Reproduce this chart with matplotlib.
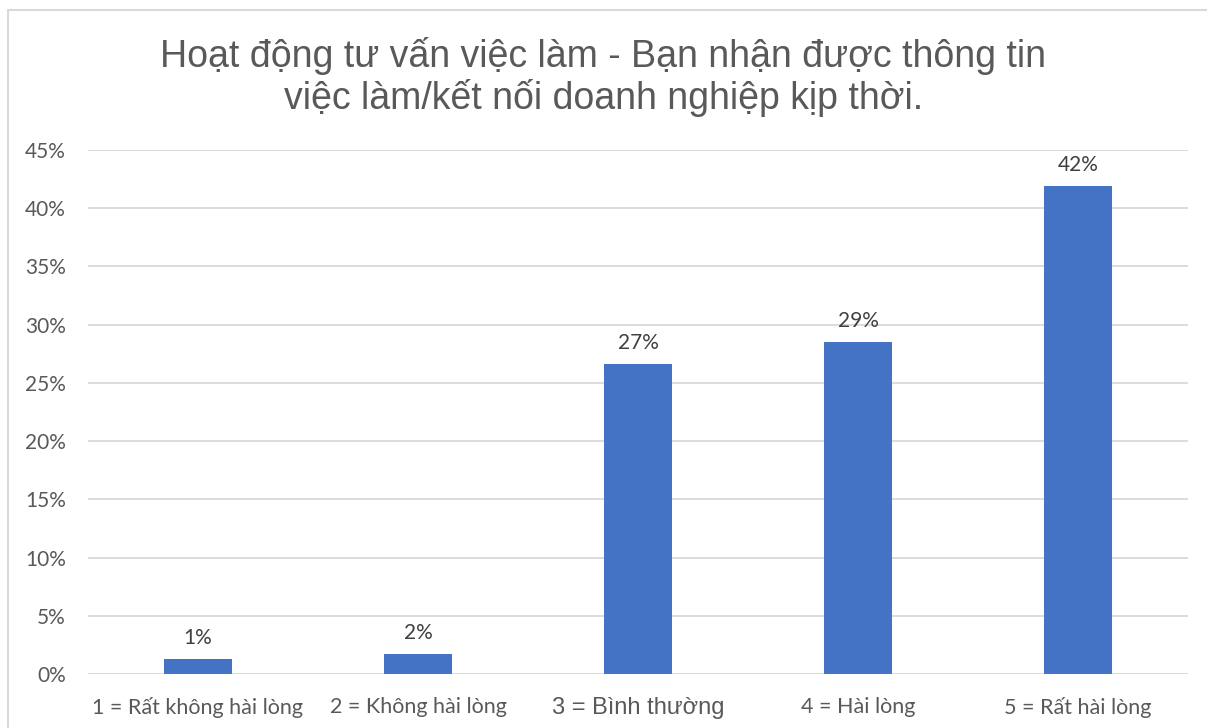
import matplotlib.pyplot as plt
from matplotlib.patches import Rectangle
from matplotlib.ticker import PercentFormatter

categories = ["1 = Rất không hài lòng", "2 = Không hài lòng", "3 = Bình thường",
              "4 = Hài lòng", "5 = Rất hài lòng"]
values = [1.3, 1.7, 26.6, 28.5, 41.9]
labels = ["1%", "2%", "27%", "29%", "42%"]
yticks = [0, 5, 10, 15, 20, 25, 30, 35, 40, 45]

title = "Hoạt động tư vấn việc làm - Bạn nhận được thông tin\nviệc làm/kết nối doanh nghiệp kịp thời."

W, H = 1207, 728
fig = plt.figure(figsize=(W / 100, H / 100), dpi=100)
ax = fig.add_axes([88 / W, 1 - 674 / H, 1100 / W, 524 / H])

# chart border (cut off on the right and bottom in the original)
fig.patches.append(Rectangle((8 / W, -0.05), 1.2, 1.05 - 10 / H, transform=fig.transFigure,
                             fill=False, edgecolor="#d9d9d9", linewidth=1.5))

x = range(len(categories))
ax.bar(x, values, width=0.31, color="#4472C4", zorder=3)
for i, v in enumerate(values):
    ax.annotate(labels[i], (i, v), xytext=(0, 15), textcoords="offset points",
                ha="center", va="center", fontsize=15, color="#404040", family="Lato")

ax.set_xlim(-0.5, len(categories) - 0.5)
ax.set_ylim(0, 45)
ax.set_yticks(yticks)
ax.yaxis.set_major_formatter(PercentFormatter(decimals=0))
ax.grid(axis="y", color="#d9d9d9", linewidth=1.3, zorder=0)
for s in ax.spines.values():
    s.set_visible(False)
ax.tick_params(axis="both", length=0, colors="#595959")
ax.tick_params(axis="y", pad=16, labelsize=15)
ax.tick_params(axis="x", pad=16.5, labelsize=15.5)
for lab in ax.get_yticklabels():
    lab.set_family("Lato")
ax.set_xticks(list(x))
ax.set_xticklabels(categories)
for i, lab in enumerate(ax.get_xticklabels()):
    if i == 2:
        lab.set_family("Liberation Sans")
        lab.set_fontsize(17)
    else:
        lab.set_family("Lato")

fig.text(0.5, 1 - 77 / H, title, ha="center", va="center", fontsize=27,
         color="#595959", family="Liberation Sans", linespacing=1.15)

fig.savefig("out.png", dpi=100)
